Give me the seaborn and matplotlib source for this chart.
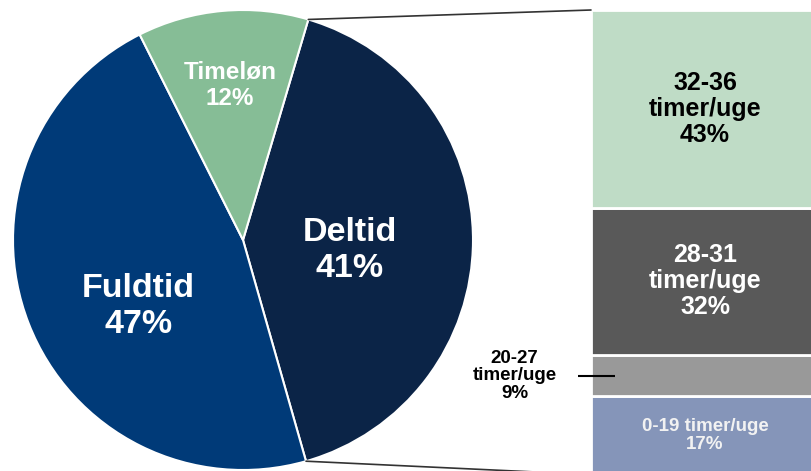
import numpy as np
import pandas as pd
import matplotlib
matplotlib.use("Agg")
import matplotlib.pyplot as plt
from matplotlib.patches import ConnectionPatch
import seaborn as sns

# Pay type split (pie)
pie_labels = ["Deltid", "Fuldtid", "Timeløn"]
pie_values = [41, 47, 12]
pie_colors = ["#0B2447", "#003A78", "#86BD96"]

# Weekly hours among part-timers (stacked bar, bottom to top)
bar_ranges = ["0-19", "20-27", "28-31", "32-36"]
bar_values = [17, 9, 32, 43]
bar_colors = ["#8595B9", "#999999", "#595959", "#BFDCC6"]
bar_text_colors = ["#F2F2F2", "black", "white", "black"]
hours_unit = "timer/uge"

sns.set_theme(style="white")
plt.rcParams["font.family"] = ["Liberation Sans", "DejaVu Sans"]
plt.rcParams["font.weight"] = "bold"

W, H = 812, 471
fig = plt.figure(figsize=(W / 100, H / 100), dpi=100)
fig.patch.set_facecolor("white")

# ---- pie ----
R, cx, cy = 230, 243, 240
ax_pie = fig.add_axes([(cx - R) / W, (H - cy - R) / H, 2 * R / W, 2 * R / H])
wedges, _ = ax_pie.pie(pie_values, colors=pie_colors, startangle=73.5,
                       counterclock=False,
                       wedgeprops=dict(edgecolor="white", linewidth=1.5))
for w in wedges:
    w.set_clip_on(False)
ax_pie.set_xlim(-1, 1)
ax_pie.set_ylim(-1, 1)
ax_pie.set_aspect("equal")
ax_pie.axis("off")

pie_text_pos = {"Deltid": (0.465, -0.045), "Fuldtid": (-0.454, -0.29),
                "Timeløn": (-0.056, 0.674)}
pie_text_size = {"Deltid": 24.5, "Fuldtid": 24.5, "Timeløn": 17.5}
for lab, val in zip(pie_labels, pie_values):
    x, y = pie_text_pos[lab]
    ax_pie.text(x, y, f"{lab}\n{val}%", ha="center", va="center",
                color="white", fontsize=pie_text_size[lab], fontweight="bold",
                linespacing=1.2)

# ---- stacked bar ----
total = sum(bar_values)
px_per_pct = 4.6
top_px = 10
bottom_px = top_px + total * px_per_pct
bar_left, bar_right = 591, 819
ax_bar = fig.add_axes([bar_left / W, (H - bottom_px) / H,
                       (bar_right - bar_left) / W, (bottom_px - top_px) / H])

df = pd.DataFrame({"group": ["Deltid"] * len(bar_values),
                   "range": bar_ranges, "pct": bar_values})
df["base"] = np.concatenate([[0], np.cumsum(bar_values)[:-1]])

for i, row in df.iterrows():
    sns.barplot(x=[row["group"]], y=[row["pct"]], bottom=row["base"],
                color=bar_colors[i], saturation=1, width=1.0, errorbar=None,
                edgecolor="white", linewidth=2, ax=ax_bar)

ax_bar.set_xlim(-0.5, 0.5)
ax_bar.set_ylim(0, total)
ax_bar.axis("off")

for i, row in df.iterrows():
    mid = row["base"] + row["pct"] / 2
    if row["range"] in ("28-31", "32-36"):
        ax_bar.text(0, mid, f"{row['range']}\n{hours_unit}\n{row['pct']}%",
                    ha="center", va="center", fontsize=18, fontweight="bold",
                    color=bar_text_colors[i], linespacing=1.1)
    elif row["range"] == "0-19":
        ax_bar.text(0, mid, f"{row['range']} {hours_unit}\n{row['pct']}%",
                    ha="center", va="center", fontsize=13.5, fontweight="bold",
                    color=bar_text_colors[i], linespacing=1.15)
    else:
        ax_bar.text(-0.835, mid, f"{row['range']}\n{hours_unit}\n{row['pct']}%",
                    ha="center", va="center", fontsize=13.5, fontweight="bold",
                    color="black", linespacing=1.05, clip_on=False)
        ax_bar.plot([-0.557, -0.395], [mid, mid], color="black", lw=1.5,
                    clip_on=False, solid_capstyle="butt")

# ---- connectors from the Deltid wedge to the bar ----
dw = wedges[0]
for theta, ybar in ((dw.theta2, total), (dw.theta1, 0)):
    p = (np.cos(np.deg2rad(theta)), np.sin(np.deg2rad(theta)))
    con = ConnectionPatch(xyA=p, coordsA=ax_pie.transData,
                          xyB=(-0.5, ybar), coordsB=ax_bar.transData,
                          color="#333333", lw=1.2)
    fig.add_artist(con)

fig.savefig("out.png", dpi=100, facecolor="white")
